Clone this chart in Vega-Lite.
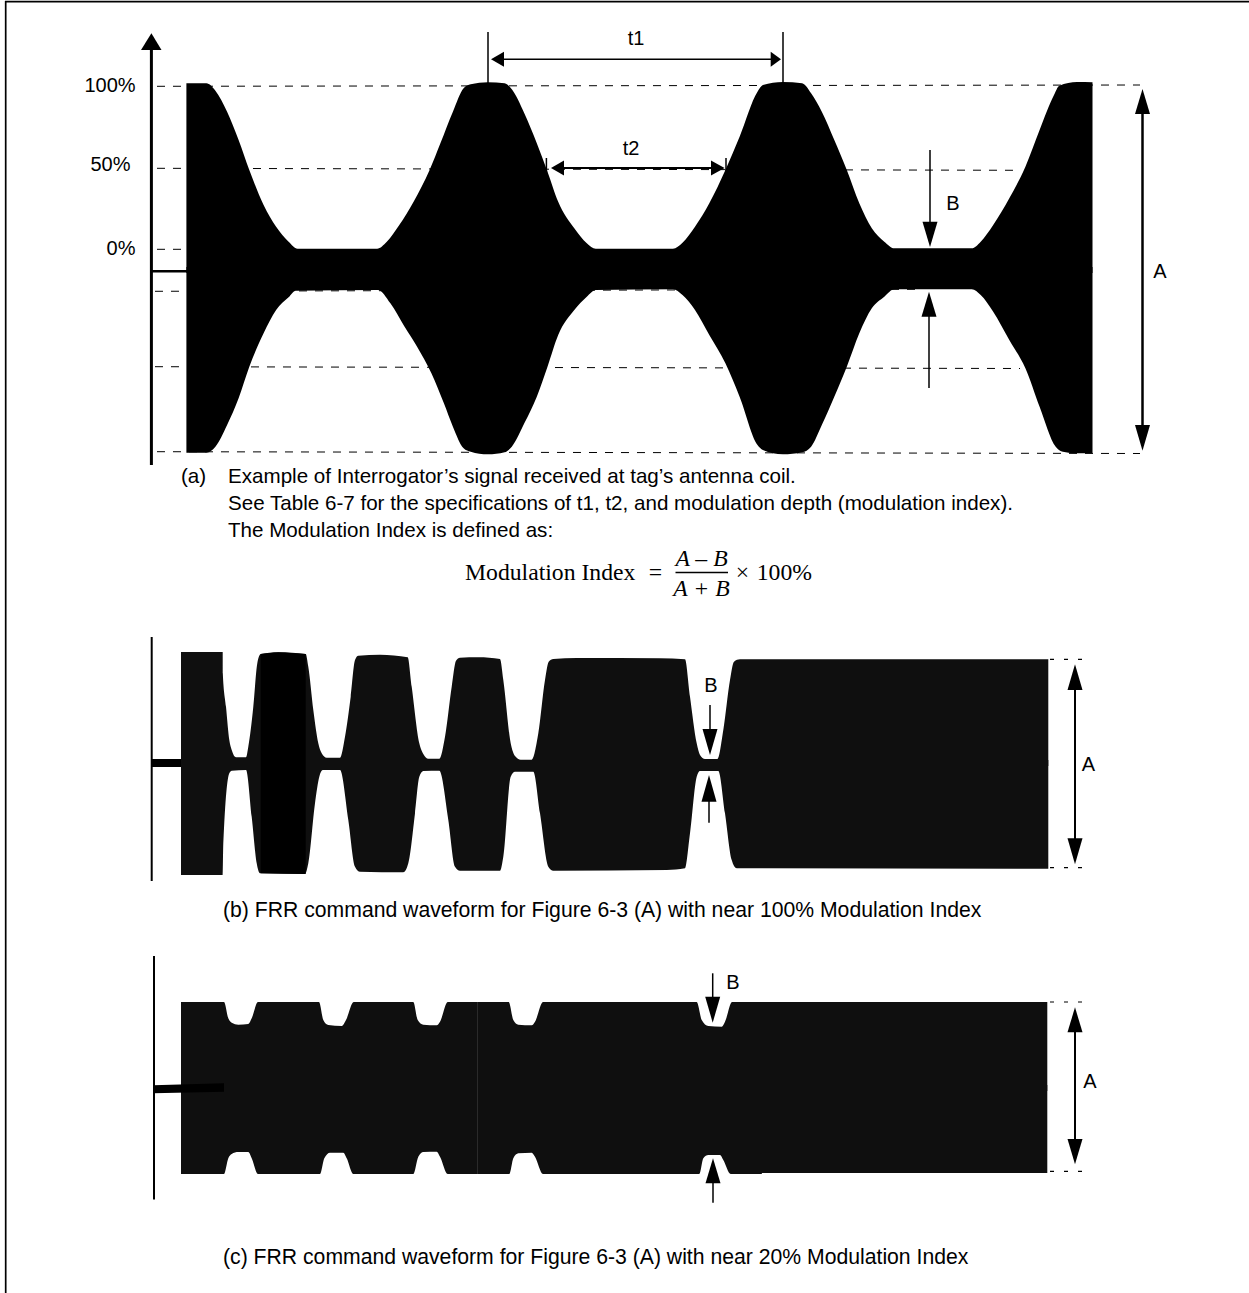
{"$schema":"https://vega.github.io/schema/vega-lite/v6.json","width":1249,"height":1293,"padding":0,"autosize":{"type":"none"},"background":"white","view":{"stroke":null},
"datasets":{
"a_up":[{"x":186.4,"y":83.3},{"x":206.4,"y":83.3},{"x":215.4,"y":90.7},{"x":227.1,"y":111.7},{"x":238.6,"y":140},{"x":249.3,"y":170},{"x":263.6,"y":205},{"x":276.1,"y":226.7},{"x":288.6,"y":241.7},{"x":297.5,"y":248.7},{"x":377.1,"y":248.7},{"x":386.8,"y":241.7},{"x":399.3,"y":225},{"x":413.6,"y":201.7},{"x":429.6,"y":170},{"x":440.4,"y":143.3},{"x":452.9,"y":111.7},{"x":463.6,"y":88.3},{"x":470.7,"y":84.3},{"x":487.9,"y":82.3},{"x":504.6,"y":83.3},{"x":511.8,"y":89.3},{"x":524.3,"y":113.3},{"x":536.8,"y":143.3},{"x":547.5,"y":171.7},{"x":558.2,"y":201.7},{"x":574.3,"y":228.3},{"x":586.8,"y":243.3},{"x":595.7,"y":248.7},{"x":672.9,"y":248.7},{"x":682.5,"y":242.7},{"x":695,"y":226.7},{"x":709.3,"y":203.3},{"x":725.4,"y":170},{"x":739.6,"y":136.7},{"x":757.5,"y":91.7},{"x":762.9,"y":85},{"x":782.9,"y":82},{"x":802.1,"y":83.3},{"x":811.1,"y":93.3},{"x":821.8,"y":111.7},{"x":834.3,"y":140},{"x":846.8,"y":170},{"x":859.3,"y":203.3},{"x":871.8,"y":228.3},{"x":884.3,"y":241.7},{"x":894.3,"y":248.3},{"x":971.8,"y":248.3},{"x":980.7,"y":241.7},{"x":993.2,"y":225},{"x":1009.3,"y":198.3},{"x":1025.4,"y":166.7},{"x":1039.6,"y":130},{"x":1054,"y":95},{"x":1059.3,"y":85.7},{"x":1077.1,"y":82},{"x":1092.5,"y":82.3}],
"a_lo":[{"x":186.4,"y":452.7},{"x":206.4,"y":452.7},{"x":215.4,"y":446.7},{"x":227.1,"y":425},{"x":238.6,"y":398.3},{"x":249.3,"y":366.7},{"x":263.6,"y":333.3},{"x":276.1,"y":310},{"x":288.6,"y":297.3},{"x":295.7,"y":290.7},{"x":377.9,"y":290},{"x":390.4,"y":303.3},{"x":404.6,"y":326.7},{"x":417.1,"y":346.7},{"x":431.4,"y":373.3},{"x":443.9,"y":403.3},{"x":452.9,"y":426.7},{"x":463.6,"y":448.3},{"x":470.7,"y":451.7},{"x":487.9,"y":454.3},{"x":504.6,"y":452.3},{"x":511.8,"y":446.7},{"x":524.3,"y":423.3},{"x":536.8,"y":396.7},{"x":547.5,"y":366.7},{"x":558.2,"y":335},{"x":574.3,"y":310},{"x":586.8,"y":296.7},{"x":595.7,"y":290},{"x":672.9,"y":289.3},{"x":682.5,"y":295},{"x":695,"y":310},{"x":709.3,"y":335},{"x":725.4,"y":363.3},{"x":739.6,"y":396.7},{"x":757.5,"y":445},{"x":762.9,"y":450},{"x":782.9,"y":454.3},{"x":802.1,"y":452.3},{"x":811.1,"y":446.7},{"x":821.8,"y":425},{"x":834.3,"y":396.7},{"x":846.8,"y":366.7},{"x":859.3,"y":333.3},{"x":871.8,"y":308.3},{"x":884.3,"y":296.7},{"x":894.3,"y":289.3},{"x":971.8,"y":289.3},{"x":980.7,"y":295},{"x":993.2,"y":311.7},{"x":1009.3,"y":340},{"x":1025.4,"y":368.3},{"x":1039.6,"y":406.7},{"x":1055.7,"y":446.7},{"x":1062.9,"y":451.7},{"x":1077.1,"y":453.3},{"x":1092.5,"y":453.3}],
"b_up":[{"x":181,"y":652},{"x":222.7,"y":652},{"x":222.8,"y":673.3},{"x":226,"y":706.7},{"x":229.3,"y":740},{"x":231.7,"y":750},{"x":236,"y":757.3},{"x":246,"y":757.3},{"x":248.3,"y":746.7},{"x":253.3,"y":706.7},{"x":257.3,"y":663.3},{"x":260.7,"y":654},{"x":278.3,"y":652.3},{"x":305.7,"y":654},{"x":308.3,"y":666.7},{"x":313.3,"y":710},{"x":318.3,"y":743.3},{"x":321.7,"y":753.3},{"x":326.7,"y":757.7},{"x":340,"y":757.7},{"x":345,"y":736.7},{"x":350.7,"y":696.7},{"x":355,"y":660},{"x":358.3,"y":655.7},{"x":380,"y":654.7},{"x":407.7,"y":657.3},{"x":411.7,"y":686.7},{"x":419.3,"y":743.3},{"x":423.3,"y":754},{"x":428.3,"y":758.7},{"x":439.3,"y":758.7},{"x":445,"y":736.7},{"x":451.7,"y":686.7},{"x":456,"y":660.7},{"x":460,"y":657.7},{"x":478.3,"y":657.3},{"x":500,"y":659},{"x":503.3,"y":680},{"x":510.7,"y":743.3},{"x":515,"y":756},{"x":520.7,"y":759.7},{"x":531.7,"y":759.7},{"x":538.3,"y":733.3},{"x":545,"y":680},{"x":548.7,"y":661.7},{"x":553.3,"y":659},{"x":576.7,"y":658},{"x":660,"y":658.3},{"x":685,"y":659.3},{"x":690,"y":696.7},{"x":696.7,"y":743.3},{"x":700,"y":755},{"x":705,"y":759},{"x":717.3,"y":759},{"x":723.3,"y":730},{"x":730,"y":680},{"x":734,"y":661.7},{"x":740,"y":659.3},{"x":1048.3,"y":659.3}],
"b_lo":[{"x":181,"y":875},{"x":222.7,"y":875},{"x":223.3,"y":843.3},{"x":229.3,"y":773.3},{"x":231.7,"y":770.7},{"x":246,"y":770},{"x":251.7,"y":816.7},{"x":256.7,"y":863.3},{"x":260,"y":873.3},{"x":305,"y":874},{"x":308.3,"y":863.3},{"x":315,"y":803.3},{"x":319.3,"y":776.7},{"x":322.7,"y":770},{"x":340,"y":770},{"x":348.3,"y":820},{"x":355,"y":866.7},{"x":360,"y":871.7},{"x":403.3,"y":872.3},{"x":408.3,"y":863.3},{"x":415,"y":813.3},{"x":419.3,"y":776.7},{"x":423.3,"y":771},{"x":439.3,"y":770.7},{"x":448.3,"y":820},{"x":455,"y":866.7},{"x":460,"y":870.7},{"x":500,"y":870.7},{"x":503.3,"y":856.7},{"x":510.7,"y":776.7},{"x":515,"y":771.7},{"x":533.3,"y":771.7},{"x":540,"y":813.3},{"x":548.3,"y":866.7},{"x":553.3,"y":870.7},{"x":666.7,"y":870},{"x":685,"y":868.3},{"x":690,"y":833.3},{"x":696.7,"y":776.7},{"x":700,"y":771},{"x":718.3,"y":771},{"x":725,"y":813.3},{"x":731.7,"y":860},{"x":736.7,"y":868.3},{"x":1048.3,"y":868.7}],
"b_dark":[{"x":260.7,"top":654,"bot":873.3},{"x":278.3,"top":652.3,"bot":873.6},{"x":305.7,"top":654,"bot":874}],
"c_up":[{"x":181,"y":1002},{"x":224,"y":1002},{"x":228.3,"y":1018.3},{"x":231.7,"y":1022.7},{"x":238.3,"y":1024.7},{"x":248.3,"y":1024},{"x":251.7,"y":1018.3},{"x":258,"y":1002},{"x":319,"y":1002},{"x":323.3,"y":1020},{"x":328.3,"y":1025},{"x":341.7,"y":1026},{"x":346,"y":1020},{"x":353.7,"y":1002},{"x":413.3,"y":1002},{"x":417.7,"y":1020},{"x":423.3,"y":1024.7},{"x":436.7,"y":1025.3},{"x":440,"y":1021.7},{"x":447.7,"y":1002},{"x":508.7,"y":1002},{"x":513.3,"y":1020},{"x":518.3,"y":1024.7},{"x":531.7,"y":1025.3},{"x":535,"y":1021.7},{"x":543,"y":1002},{"x":696.7,"y":1002},{"x":701.7,"y":1020},{"x":708.3,"y":1026},{"x":721.7,"y":1026.7},{"x":725,"y":1021.7},{"x":732,"y":1002},{"x":1047.3,"y":1002}],
"c_lo":[{"x":181,"y":1174},{"x":224,"y":1174},{"x":228.3,"y":1158.3},{"x":231.7,"y":1154},{"x":238.3,"y":1152},{"x":248.3,"y":1152},{"x":251.7,"y":1158.3},{"x":258,"y":1174},{"x":320,"y":1174},{"x":324.3,"y":1158.3},{"x":330,"y":1152.7},{"x":343.3,"y":1152.7},{"x":346.7,"y":1158.3},{"x":353.3,"y":1174},{"x":413.3,"y":1174},{"x":418.3,"y":1156.7},{"x":423.3,"y":1152},{"x":436.7,"y":1151.7},{"x":440,"y":1156.7},{"x":447.7,"y":1174},{"x":509.3,"y":1174},{"x":513.3,"y":1158.3},{"x":518.3,"y":1153.3},{"x":531.7,"y":1152.7},{"x":535,"y":1156.7},{"x":543,"y":1174},{"x":699.3,"y":1174},{"x":703.3,"y":1158.3},{"x":708.3,"y":1155},{"x":720,"y":1155},{"x":723.3,"y":1160},{"x":730.7,"y":1174},{"x":761.7,"y":1174},{"x":762,"y":1173},{"x":1047.3,"y":1173}],
"c_bar":[{"x":153,"top":1085.3,"bot":1093.3},{"x":224,"top":1083.3,"bot":1091.7}],
"solid":[
{"id":"frameT","w":1.7,"x":5,"y":1.7},{"id":"frameT","w":1.7,"x":1249,"y":1.7},
{"id":"frameL","w":1.7,"x":5.7,"y":1},{"id":"frameL","w":1.7,"x":5.7,"y":1293},
{"id":"ax","w":3,"x":151.4,"y":48},{"id":"ax","w":3,"x":151.4,"y":465},
{"id":"in","w":2.5,"x":152,"y":271.3},{"id":"in","w":2.5,"x":187,"y":271.3},
{"id":"t1l","w":1.5,"x":488,"y":32},{"id":"t1l","w":1.5,"x":488,"y":83},
{"id":"t1r","w":1.5,"x":783,"y":32},{"id":"t1r","w":1.5,"x":783,"y":83},
{"id":"t1","w":1.5,"x":500,"y":59.3},{"id":"t1","w":1.5,"x":775,"y":59.3},
{"id":"t2","w":2.2,"x":560,"y":168},{"id":"t2","w":2.2,"x":715,"y":168},
{"id":"t2l","w":1.5,"x":546.4,"y":158},{"id":"t2l","w":1.5,"x":546.4,"y":176},
{"id":"t2r","w":1.5,"x":726,"y":158},{"id":"t2r","w":1.5,"x":726,"y":172},
{"id":"B1","w":1.5,"x":930,"y":150},{"id":"B1","w":1.5,"x":930,"y":225},
{"id":"B2","w":1.5,"x":929,"y":312},{"id":"B2","w":1.5,"x":929,"y":388},
{"id":"A1","w":2.5,"x":1142.5,"y":110},{"id":"A1","w":2.5,"x":1142.5,"y":430},
{"id":"axb","w":2,"x":151.7,"y":637},{"id":"axb","w":2,"x":151.7,"y":881},
{"id":"inb","w":8,"x":152,"y":763},{"id":"inb","w":8,"x":181,"y":763},
{"id":"Bb1","w":1.5,"x":710,"y":705},{"id":"Bb1","w":1.5,"x":710,"y":732},
{"id":"Bb2","w":1.5,"x":709,"y":798},{"id":"Bb2","w":1.5,"x":709,"y":822.7},
{"id":"Ab","w":2,"x":1075,"y":686},{"id":"Ab","w":2,"x":1075,"y":842},
{"id":"axc","w":2,"x":154,"y":956},{"id":"axc","w":2,"x":154,"y":1199.5},
{"id":"Bc1","w":1.5,"x":712.7,"y":973.3},{"id":"Bc1","w":1.5,"x":712.7,"y":1000},
{"id":"Bc2","w":1.5,"x":713,"y":1180},{"id":"Bc2","w":1.5,"x":713,"y":1202.7},
{"id":"Ac","w":2,"x":1075,"y":1028},{"id":"Ac","w":2,"x":1075,"y":1143},
{"id":"frac","w":1.3,"x":675.5,"y":572.5},{"id":"frac","w":1.3,"x":728,"y":572.5}
],
"seam":[{"x":477.5,"y":1002},{"x":477.5,"y":1174}],
"dashes":[
{"id":"d1","x":157,"y":86.3},{"id":"d1","x":1140,"y":85},
{"id":"d2","x":157,"y":168.3},{"id":"d2","x":1020,"y":170.3},
{"id":"d3","x":157,"y":249.3},{"id":"d3","x":186,"y":249.3},
{"id":"d4","x":155,"y":291.3},{"id":"d4","x":920,"y":289.3},
{"id":"d5","x":155,"y":366.7},{"id":"d5","x":1020,"y":368.5},
{"id":"d6","x":157,"y":451.7},{"id":"d6","x":1140,"y":453.5}
],
"dots":[
{"id":"e1","x":1050,"y":659.3},{"id":"e1","x":1091.7,"y":659.3},
{"id":"e2","x":1050,"y":867.7},{"id":"e2","x":1091.7,"y":867.7},
{"id":"e3","x":1050,"y":1002},{"id":"e3","x":1091.7,"y":1002},
{"id":"e4","x":1050,"y":1171.3},{"id":"e4","x":1091.7,"y":1171.3}
],
"vheads":[
{"id":"ax","y":33.3,"l":151.4,"r":151.4},{"id":"ax","y":50,"l":141,"r":161.5},
{"id":"B1","y":247,"l":930,"r":930},{"id":"B1","y":221.7,"l":922.5,"r":937.5},
{"id":"B2","y":291.7,"l":929,"r":929},{"id":"B2","y":316.7,"l":921.5,"r":936.5},
{"id":"A1","y":89,"l":1142.5,"r":1142.5},{"id":"A1","y":114,"l":1135,"r":1150},
{"id":"A2","y":450.7,"l":1142.5,"r":1142.5},{"id":"A2","y":425,"l":1135,"r":1150},
{"id":"Bb1","y":755,"l":710,"r":710},{"id":"Bb1","y":729,"l":702.5,"r":717.5},
{"id":"Bb2","y":775,"l":709,"r":709},{"id":"Bb2","y":801.7,"l":701.5,"r":716.5},
{"id":"Ab1","y":664.3,"l":1075,"r":1075},{"id":"Ab1","y":690,"l":1067.5,"r":1082.5},
{"id":"Ab2","y":864.3,"l":1075,"r":1075},{"id":"Ab2","y":838.3,"l":1067.5,"r":1082.5},
{"id":"Bc1","y":1022.7,"l":712.7,"r":712.7},{"id":"Bc1","y":996.7,"l":705.2,"r":720.2},
{"id":"Bc2","y":1158.3,"l":713,"r":713},{"id":"Bc2","y":1183.3,"l":705.5,"r":720.5},
{"id":"Ac1","y":1007.3,"l":1075,"r":1075},{"id":"Ac1","y":1032.3,"l":1067.5,"r":1082.5},
{"id":"Ac2","y":1164.3,"l":1075,"r":1075},{"id":"Ac2","y":1139,"l":1067.5,"r":1082.5}
],
"hheads":[
{"id":"t1a","x":491,"t":59.3,"b":59.3},{"id":"t1a","x":504,"t":51.8,"b":66.8},
{"id":"t1b","x":781,"t":59.3,"b":59.3},{"id":"t1b","x":770.7,"t":51.8,"b":66.8},
{"id":"t2a","x":551,"t":168,"b":168},{"id":"t2a","x":564,"t":160.5,"b":175.5},
{"id":"t2b","x":724.6,"t":168,"b":168},{"id":"t2b","x":711,"t":160.5,"b":175.5}
],
"sans":[
{"t":"100%","x":110,"y":85.5},{"t":"50%","x":110.5,"y":165},{"t":"0%","x":121,"y":249},
{"t":"t1","x":636,"y":39},{"t":"t2","x":631,"y":149},{"t":"B","x":953,"y":204},{"t":"A","x":1160,"y":272},
{"t":"B","x":711,"y":686},{"t":"A","x":1088.5,"y":765},{"t":"B","x":733,"y":983},{"t":"A","x":1090,"y":1082}
],
"capsA":[
{"t":"(a)","x":181,"y":476.5},{"t":"Example of Interrogator’s signal received at tag’s antenna coil.","x":228,"y":476.5},
{"t":"See Table 6-7 for the specifications of t1, t2, and modulation depth (modulation index).","x":228,"y":503.5},
{"t":"The Modulation Index is defined as:","x":228,"y":530.5}
],
"capsB":[
{"t":"(b) FRR command waveform for Figure 6-3 (A) with near 100% Modulation Index","x":223,"y":911},
{"t":"(c) FRR command waveform for Figure 6-3 (A) with near 20% Modulation Index","x":223,"y":1258}
],
"serifL":[
{"t":"Modulation Index","x":465,"y":573},{"t":"100%","x":756.7,"y":573}
],
"serifC":[
{"t":"=","x":655.5,"y":573},{"t":"×","x":742.5,"y":573}
],
"serifI":[
{"t":"A – B","x":701.5,"y":559},{"t":"A + B","x":701.5,"y":589}
]
},
"encoding":{"x":{"field":"x","type":"quantitative","scale":{"domain":[0,1249],"nice":false,"zero":false},"axis":null},"y":{"field":"y","type":"quantitative","scale":{"domain":[1293,0],"nice":false,"zero":false},"axis":null}},
"layer":[
{"data":{"name":"dashes"},"mark":{"type":"line","stroke":"#000","strokeWidth":1,"strokeDash":[8,8]},"encoding":{"detail":{"field":"id"}}},
{"data":{"name":"dots"},"mark":{"type":"line","stroke":"#000","strokeWidth":1.2,"strokeDash":[4,10]},"encoding":{"detail":{"field":"id"}}},
{"data":{"name":"a_up"},"mark":{"type":"area","color":"#000","interpolate":"monotone"},"encoding":{"y":{"field":"y","type":"quantitative","stack":null},"y2":{"datum":273}}},
{"data":{"name":"a_lo"},"mark":{"type":"area","color":"#000","interpolate":"monotone"},"encoding":{"y":{"field":"y","type":"quantitative","stack":null},"y2":{"datum":267}}},
{"data":{"name":"b_up"},"mark":{"type":"area","color":"#0f0f0f","interpolate":"monotone"},"encoding":{"y":{"field":"y","type":"quantitative","stack":null},"y2":{"datum":766}}},
{"data":{"name":"b_lo"},"mark":{"type":"area","color":"#0f0f0f","interpolate":"monotone"},"encoding":{"y":{"field":"y","type":"quantitative","stack":null},"y2":{"datum":760}}},
{"data":{"name":"b_dark"},"mark":{"type":"area","color":"#000"},"encoding":{"y":{"field":"top","type":"quantitative","stack":null},"y2":{"field":"bot"}}},
{"data":{"name":"c_up"},"mark":{"type":"area","color":"#0f0f0f","interpolate":"monotone"},"encoding":{"y":{"field":"y","type":"quantitative","stack":null},"y2":{"datum":1091}}},
{"data":{"name":"c_lo"},"mark":{"type":"area","color":"#0f0f0f","interpolate":"monotone"},"encoding":{"y":{"field":"y","type":"quantitative","stack":null},"y2":{"datum":1085}}},
{"data":{"name":"seam"},"mark":{"type":"line","stroke":"#2a2a2a","strokeWidth":1},"encoding":{}},
{"data":{"name":"c_bar"},"mark":{"type":"area","color":"#000"},"encoding":{"y":{"field":"top","type":"quantitative","stack":null},"y2":{"field":"bot"}}},
{"data":{"name":"solid"},"mark":{"type":"line","stroke":"#000"},"encoding":{"detail":{"field":"id"},"strokeWidth":{"field":"w","type":"quantitative","scale":null}}},
{"data":{"name":"vheads"},"mark":{"type":"area","orient":"horizontal","color":"#000"},"encoding":{"x":{"field":"l","type":"quantitative","stack":null},"x2":{"field":"r"},"detail":{"field":"id"}}},
{"data":{"name":"hheads"},"mark":{"type":"area","color":"#000"},"encoding":{"y":{"field":"t","type":"quantitative","stack":null},"y2":{"field":"b"},"detail":{"field":"id"}}},
{"data":{"name":"sans"},"mark":{"type":"text","font":"Liberation Sans","fontSize":20,"color":"#000","baseline":"middle","align":"center"},"encoding":{"text":{"field":"t"}}},
{"data":{"name":"capsA"},"mark":{"type":"text","font":"Liberation Sans","color":"#000","baseline":"middle","align":"left","fontSize":20.6},"encoding":{"text":{"field":"t"}}},
{"data":{"name":"capsB"},"mark":{"type":"text","font":"Liberation Sans","color":"#000","baseline":"middle","align":"left","fontSize":21.2},"encoding":{"text":{"field":"t"}}},
{"data":{"name":"serifL"},"mark":{"type":"text","font":"Liberation Serif","color":"#000","baseline":"middle","align":"left","fontSize":23.7},"encoding":{"text":{"field":"t"}}},
{"data":{"name":"serifC"},"mark":{"type":"text","font":"Liberation Serif","color":"#000","baseline":"middle","align":"center","fontSize":23.7},"encoding":{"text":{"field":"t"}}},
{"data":{"name":"serifI"},"mark":{"type":"text","font":"Liberation Serif","fontStyle":"italic","color":"#000","baseline":"middle","align":"center","fontSize":23.7},"encoding":{"text":{"field":"t"}}}
]}
